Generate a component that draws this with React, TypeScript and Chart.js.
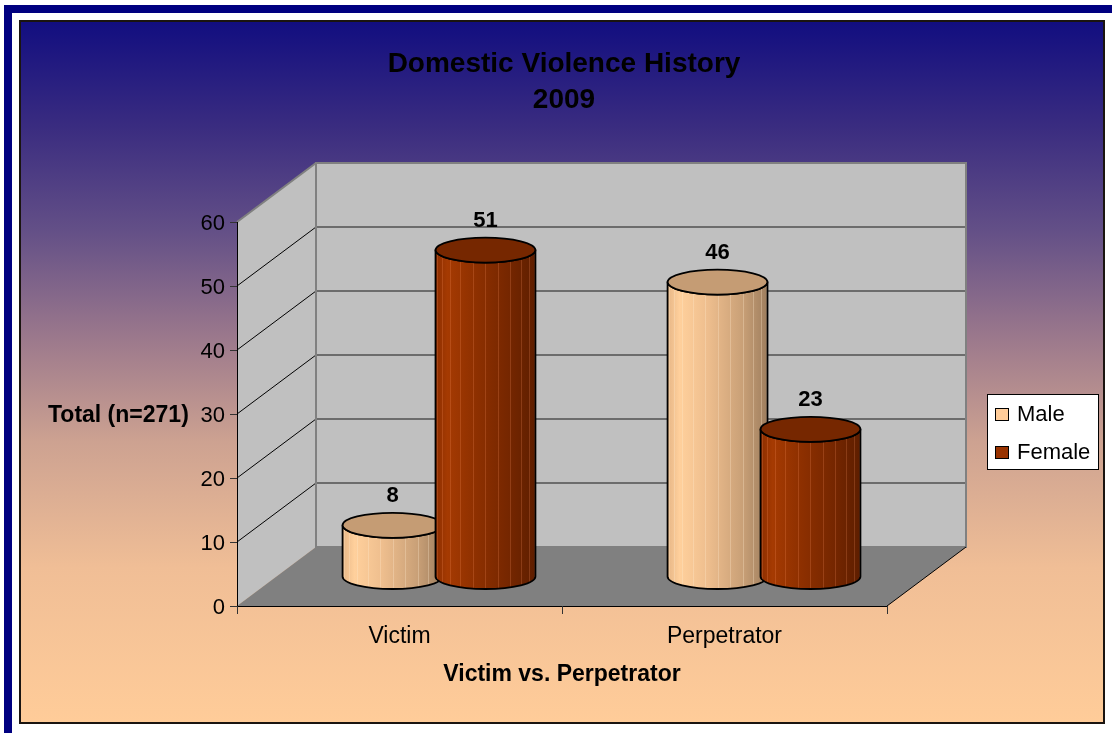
import React, { useEffect, useRef } from 'react';
import { Chart, registerables } from 'chart.js';

Chart.register(...registerables);

// ---- data ----
const categories = ['Victim', 'Perpetrator'];
const seriesLabels = ['Male', 'Female'];
const maleValues = [8, 46];
const femaleValues = [51, 23];
const yTicks = [0, 10, 20, 30, 40, 50, 60];
const titleLines = ['Domestic Violence History', '2009'];
const xAxisTitle = 'Victim vs. Perpetrator';
const yAxisTitle = 'Total (n=271)';

// ---- style ----
const W = 1112;
const H = 733;
const FONT = '"Liberation Sans", Arial, Helvetica, sans-serif';
const DEPTH_X = 79;
const DEPTH_Y = -59;
const seriesColors = ['#FFCC99', '#993300'];
const sideStops = [
  [[0, '#E6B686'], [0.12, '#FFD09C'], [0.4, '#EEBE8E'], [0.75, '#C9A077'], [1, '#9E7E5E']],
  [[0, '#8C2E00'], [0.12, '#A53A02'], [0.4, '#8E3000'], [0.75, '#742600'], [1, '#5E1E00']],
];
const topColors = ['#C59C74', '#762700'];

function bodyPath(ctx: CanvasRenderingContext2D, cx: number, yTop: number, yBase: number, rx: number, ry: number) {
  ctx.beginPath();
  ctx.moveTo(cx - rx, yTop);
  ctx.lineTo(cx - rx, yBase);
  ctx.ellipse(cx, yBase, rx, ry, 0, Math.PI, 0, true);
  ctx.lineTo(cx + rx, yTop);
  ctx.ellipse(cx, yTop, rx, ry, 0, 0, Math.PI, false);
  ctx.closePath();
}

function drawCylinder(ctx: CanvasRenderingContext2D, cx: number, yTop: number, yBase: number, rx: number, ry: number, s: number) {
  const g = ctx.createLinearGradient(cx - rx, 0, cx + rx, 0);
  for (const [o, c] of sideStops[s] as any) g.addColorStop(o, c);
  ctx.save();
  bodyPath(ctx, cx, yTop, yBase, rx, ry);
  ctx.fillStyle = g;
  ctx.fill();
  // facets
  ctx.save();
  ctx.clip();
  ctx.strokeStyle = s === 0 ? 'rgba(255,235,210,0.3)' : 'rgba(255,150,100,0.22)';
  ctx.lineWidth = 1;
  for (let k = 1; k < 12; k++) {
    const th = Math.PI - (k * Math.PI) / 12;
    const x = Math.round(cx + rx * Math.cos(th)) + 0.5;
    ctx.beginPath();
    ctx.moveTo(x, yTop);
    ctx.lineTo(x, yBase + ry);
    ctx.stroke();
  }
  ctx.restore();
  bodyPath(ctx, cx, yTop, yBase, rx, ry);
  ctx.strokeStyle = '#000';
  ctx.lineWidth = 1.8;
  ctx.lineJoin = 'round';
  ctx.stroke();
  // top
  ctx.beginPath();
  ctx.ellipse(cx, yTop, rx, ry, 0, 0, Math.PI * 2);
  ctx.fillStyle = topColors[s];
  ctx.fill();
  ctx.stroke();
  ctx.restore();
}

const scenePlugin = {
  id: 'scene',
  beforeDraw(chart: any) {
    const ctx: CanvasRenderingContext2D = chart.ctx;
    ctx.save();
    ctx.fillStyle = '#fff';
    ctx.fillRect(0, 0, W, H);
    ctx.fillStyle = '#000080';
    ctx.fillRect(4, 5, W, H);
    ctx.fillStyle = '#fff';
    ctx.fillRect(12, 13, W, H);
    ctx.fillStyle = '#1a1410';
    ctx.fillRect(19, 20, 1086, 704);
    const g = ctx.createLinearGradient(0, 22, 0, 722);
    g.addColorStop(0, 'rgb(18,14,128)');
    g.addColorStop(0.15, 'rgb(58,44,128)');
    g.addColorStop(0.3, 'rgb(100,80,135)');
    g.addColorStop(0.45, 'rgb(155,120,140)');
    g.addColorStop(0.6, 'rgb(205,162,145)');
    g.addColorStop(0.78, 'rgb(240,190,150)');
    g.addColorStop(1, 'rgb(255,204,153)');
    ctx.fillStyle = g;
    ctx.fillRect(21, 22, 1082, 700);
    ctx.restore();
  },
  beforeDatasetsDraw(chart: any) {
    const ctx: CanvasRenderingContext2D = chart.ctx;
    const { left, right } = chart.chartArea;
    const ys = chart.scales.y;
    const y0 = ys.getPixelForValue(yTicks[0]);
    const yMax = ys.getPixelForValue(yTicks[yTicks.length - 1]);
    const dx = DEPTH_X, dy = DEPTH_Y;
    ctx.save();
    // side wall
    ctx.fillStyle = '#C0C0C0';
    ctx.beginPath();
    ctx.moveTo(left, yMax);
    ctx.lineTo(left + dx, yMax + dy);
    ctx.lineTo(left + dx, y0 + dy);
    ctx.lineTo(left, y0);
    ctx.closePath();
    ctx.fill();
    // back wall
    ctx.fillRect(left + dx, yMax + dy, right - left, y0 - yMax);
    // floor
    ctx.fillStyle = '#808080';
    ctx.beginPath();
    ctx.moveTo(left, y0);
    ctx.lineTo(left + dx, y0 + dy);
    ctx.lineTo(right + dx, y0 + dy);
    ctx.lineTo(right, y0);
    ctx.closePath();
    ctx.fill();
    // gridlines
    for (const t of yTicks.slice(1, -1)) {
      const y = Math.round(ys.getPixelForValue(t));
      ctx.strokeStyle = '#505050';
      ctx.lineWidth = 1.5;
      ctx.beginPath();
      ctx.moveTo(left + dx, y + dy);
      ctx.lineTo(right + dx, y + dy);
      ctx.stroke();
      ctx.strokeStyle = '#000';
      ctx.lineWidth = 1;
      ctx.beginPath();
      ctx.moveTo(left, y);
      ctx.lineTo(left + dx, y + dy);
      ctx.stroke();
    }
    // wall edges
    ctx.strokeStyle = '#808080';
    ctx.lineWidth = 2;
    ctx.strokeRect(left + dx, yMax + dy, right - left, y0 - yMax);
    ctx.beginPath();
    ctx.moveTo(left, yMax);
    ctx.lineTo(left + dx, yMax + dy);
    ctx.stroke();
    ctx.strokeStyle = '#000';
    ctx.lineWidth = 1;
    ctx.beginPath();
    ctx.moveTo(right, y0);
    ctx.lineTo(right + dx, y0 + dy);
    ctx.stroke();
    // y axis
    ctx.beginPath();
    ctx.moveTo(left + 0.5, yMax);
    ctx.lineTo(left + 0.5, y0);
    ctx.stroke();
    ctx.font = `22px ${FONT}`;
    ctx.fillStyle = '#000';
    ctx.textAlign = 'right';
    ctx.textBaseline = 'middle';
    for (const t of yTicks) {
      const y = Math.round(ys.getPixelForValue(t)) + 0.5;
      ctx.strokeStyle = '#333';
      ctx.beginPath();
      ctx.moveTo(left - 7, y);
      ctx.lineTo(left, y);
      ctx.stroke();
      ctx.fillText(String(t), left - 12, y + 1);
    }
    // x axis
    ctx.strokeStyle = '#000';
    ctx.beginPath();
    ctx.moveTo(left, y0 + 0.5);
    ctx.lineTo(right, y0 + 0.5);
    ctx.stroke();
    const n = categories.length;
    for (let i = 0; i <= n; i++) {
      const x = Math.round(left + (i * (right - left)) / n) + 0.5;
      ctx.strokeStyle = '#333';
      ctx.beginPath();
      ctx.moveTo(x, y0);
      ctx.lineTo(x, y0 + 8);
      ctx.stroke();
    }
    ctx.textAlign = 'center';
    ctx.textBaseline = 'alphabetic';
    ctx.font = `23px ${FONT}`;
    categories.forEach((c, i) => {
      ctx.fillText(c, chart.scales.x.getPixelForValue(i), y0 + 37);
    });
    ctx.restore();
  },
  afterDatasetsDraw(chart: any) {
    const ctx: CanvasRenderingContext2D = chart.ctx;
    const cdx = DEPTH_X / 2, cdy = DEPTH_Y / 2;
    const ry = 12.5;
    const labels: { x: number; y: number; v: number }[] = [];
    for (let i = 0; i < categories.length; i++) {
      chart.data.datasets.forEach((ds: any, s: number) => {
        const el = chart.getDatasetMeta(s).data[i];
        const cx = el.x + cdx;
        const yTop = el.y + cdy;
        const yBase = el.base + cdy;
        drawCylinder(ctx, cx, yTop, yBase, el.width / 2, ry, s);
        labels.push({ x: cx, y: yTop - 29, v: ds.data[i] });
      });
    }
    ctx.save();
    ctx.font = `bold 22px ${FONT}`;
    ctx.fillStyle = '#000';
    ctx.textAlign = 'center';
    ctx.textBaseline = 'middle';
    for (const l of labels) ctx.fillText(String(l.v), l.x, l.y);
    ctx.restore();
  },
  afterDraw(chart: any) {
    const ctx: CanvasRenderingContext2D = chart.ctx;
    const { left, right } = chart.chartArea;
    ctx.save();
    ctx.fillStyle = '#000';
    ctx.textAlign = 'center';
    ctx.textBaseline = 'alphabetic';
    ctx.font = `bold 28px ${FONT}`;
    ctx.fillText(titleLines[0], 564, 72);
    ctx.fillText(titleLines[1], 564, 108);
    ctx.font = `bold 23px ${FONT}`;
    ctx.fillText(xAxisTitle, (left + right) / 2, 681);
    ctx.textAlign = 'left';
    ctx.fillText(yAxisTitle, 48, 422);
    // legend
    ctx.fillStyle = '#fff';
    ctx.fillRect(987, 394, 111, 75);
    ctx.strokeStyle = '#000';
    ctx.lineWidth = 1;
    ctx.strokeRect(987.5, 394.5, 111, 75);
    ctx.font = `22px ${FONT}`;
    seriesLabels.forEach((lab, i) => {
      const y = 408 + i * 38;
      ctx.fillStyle = seriesColors[i];
      ctx.fillRect(995, y, 14, 13);
      ctx.strokeStyle = '#000';
      ctx.strokeRect(995.5, y + 0.5, 13, 12);
      ctx.fillStyle = '#000';
      ctx.fillText(lab, 1017, y + 13);
    });
    ctx.restore();
  },
};

export default function App() {
  const ref = useRef<HTMLCanvasElement | null>(null);
  useEffect(() => {
    if (!ref.current) return;
    const chart = new Chart(ref.current, {
      type: 'bar',
      data: {
        labels: categories,
        datasets: [
          { label: seriesLabels[0], data: maleValues, backgroundColor: 'rgba(0,0,0,0)', borderWidth: 0 },
          { label: seriesLabels[1], data: femaleValues, backgroundColor: 'rgba(0,0,0,0)', borderWidth: 0 },
        ],
      },
      options: {
        responsive: false,
        animation: false,
        devicePixelRatio: 1,
        categoryPercentage: 0.572,
        barPercentage: 1.075,
        layout: { padding: { left: 237, right: W - 887, top: 222, bottom: H - 606 } },
        scales: {
          x: { display: false },
          y: { display: false, min: 0, max: 60 },
        },
        plugins: {
          legend: { display: false },
          tooltip: { enabled: false },
          title: { display: false },
        },
      } as any,
      plugins: [scenePlugin],
    });
    return () => chart.destroy();
  }, []);
  return (
    <canvas
      ref={ref}
      width={W}
      height={H}
      style={{ position: 'fixed', left: 0, top: 0, width: W, height: H }}
    />
  );
}
